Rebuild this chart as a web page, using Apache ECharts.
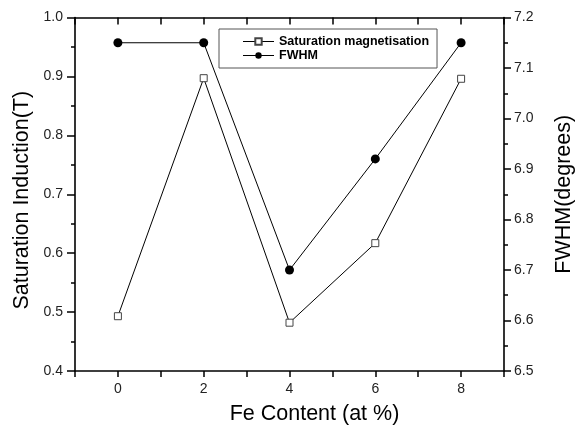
<!DOCTYPE html>
<html>
<head>
<meta charset="utf-8">
<script src="https://cdn.jsdelivr.net/npm/echarts@6/dist/echarts.min.js"></script>
<style>
html,body{margin:0;padding:0;background:#fff;}
#chart{width:583px;height:430px;}
</style>
</head>
<body>
<div id="chart"></div>
<script>
var feContent = [0, 2, 4, 6, 8];
var saturationValues = [0.493, 0.897, 0.482, 0.617, 0.896];
var fwhmValues = [7.15, 7.15, 6.70, 6.92, 7.15];
var seriesNames = ['Saturation magnetisation', 'FWHM'];

var FONT = '"Liberation Sans", Arial, sans-serif';
var chart = echarts.init(document.getElementById('chart'));

function pairs(xs, ys) { return xs.map(function (x, i) { return [x, ys[i]]; }); }

var axisLine = { show: true, onZero: false, lineStyle: { color: '#000', width: 1.6 } };
var tickStyle = { color: '#000', width: 1.5 };
var label = { color: '#222', fontSize: 14, fontFamily: FONT };

chart.setOption({
  animation: false,
  backgroundColor: '#fff',
  grid: { left: 75, right: 73.5, top: 17.5, bottom: 58 },
  legend: {
    orient: 'vertical',
    left: 219, top: 29,
    width: 228,
    padding: [6, 8, 6, 23.5],
    itemGap: 1,
    itemWidth: 31, itemHeight: 8,
    borderColor: '#555', borderWidth: 1,
    lineStyle: { width: 1 },
    textStyle: { fontFamily: FONT, fontSize: 12.5, fontWeight: 'bold', color: '#000' },
    data: seriesNames
  },
  xAxis: [{
    type: 'value', min: -1, max: 9, interval: 1,
    position: 'bottom',
    name: 'Fe Content (at %)', nameLocation: 'middle', nameGap: 32,
    nameTextStyle: { fontFamily: FONT, fontSize: 21.5, color: '#000', padding: [0, 0, 0, 50] },
    axisLine: axisLine,
    axisTick: { show: true, inside: false, length: 6, lineStyle: tickStyle },
    axisLabel: Object.assign({ margin: 11, formatter: function (v) { return (v % 2 === 0 && v >= 0 && v <= 8) ? String(v) : ''; } }, label),
    splitLine: { show: false }
  }, {
    type: 'value', min: -1, max: 9, interval: 1,
    position: 'top',
    axisLine: axisLine,
    axisTick: { show: true, inside: true, length: 7, lineStyle: tickStyle },
    axisLabel: { show: false },
    splitLine: { show: false }
  }],
  yAxis: [{
    type: 'value', min: 0.4, max: 1.0, interval: 0.1,
    position: 'left',
    name: 'Saturation Induction(T)', nameLocation: 'middle', nameGap: 40,
    nameTextStyle: { fontFamily: FONT, fontSize: 21.5, color: '#000', padding: [0, 12, 0, 0] },
    axisLine: axisLine,
    axisTick: { show: true, inside: false, length: 8, lineStyle: tickStyle },
    minorTick: { show: true, splitNumber: 2, length: 4, lineStyle: tickStyle },
    axisLabel: Object.assign({ margin: 12, formatter: function (v) { return v.toFixed(1); } }, label),
    splitLine: { show: false }
  }, {
    type: 'value', min: 6.5, max: 7.2, interval: 0.1,
    position: 'right',
    name: 'FWHM(degrees)', nameLocation: 'middle', nameGap: 49,
    nameRotate: 90,
    nameTextStyle: { fontFamily: FONT, fontSize: 21.5, color: '#000' },
    axisLine: axisLine,
    axisTick: { show: true, inside: false, length: 7, lineStyle: tickStyle },
    minorTick: { show: true, splitNumber: 2, length: 4, lineStyle: tickStyle },
    axisLabel: Object.assign({ margin: 10, formatter: function (v) { return v.toFixed(1); } }, label),
    splitLine: { show: false }
  }],
  series: [{
    name: seriesNames[0],
    type: 'line',
    xAxisIndex: 0, yAxisIndex: 0,
    data: pairs(feContent, saturationValues),
    symbol: 'rect', symbolSize: 7,
    lineStyle: { color: '#000', width: 1 },
    itemStyle: { color: '#fff', borderColor: '#444', borderWidth: 1 },
    z: 3
  }, {
    name: seriesNames[1],
    type: 'line',
    xAxisIndex: 0, yAxisIndex: 1,
    data: pairs(feContent, fwhmValues),
    symbol: 'circle', symbolSize: 9,
    lineStyle: { color: '#000', width: 1 },
    itemStyle: { color: '#000', borderColor: '#000', borderWidth: 0 },
    z: 3
  }]
});
</script>
</body>
</html>
